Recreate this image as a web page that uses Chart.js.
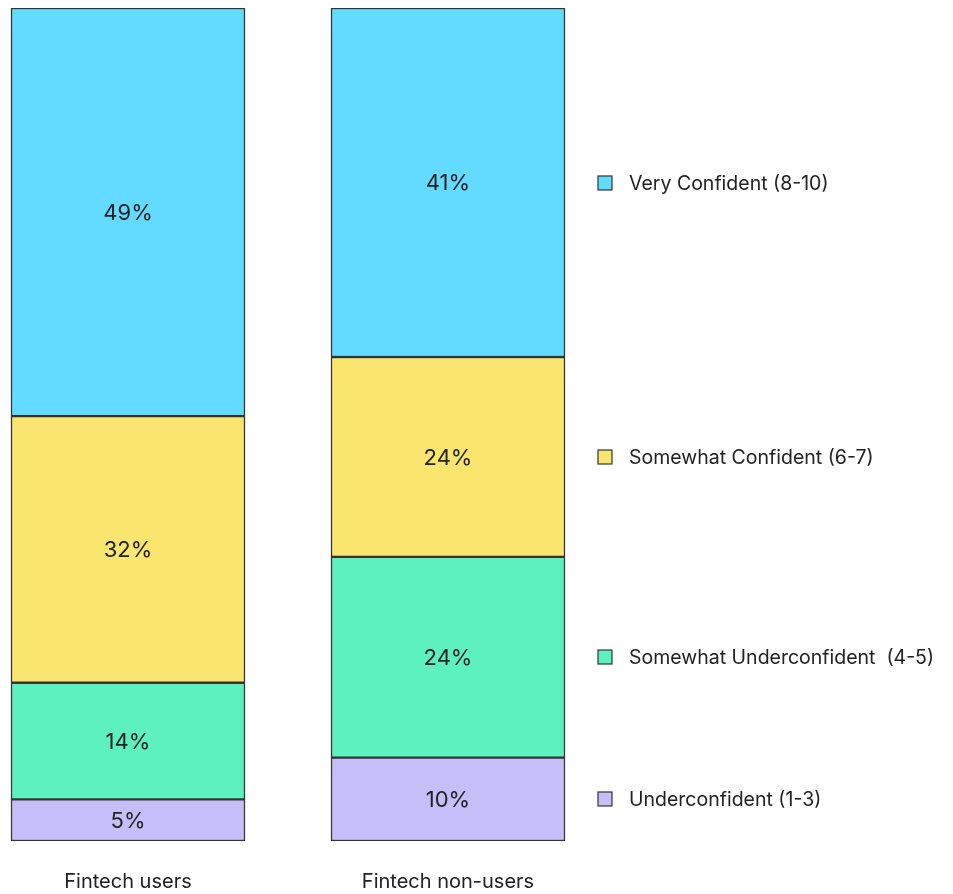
<!DOCTYPE html>
<html>
<head>
<meta charset="utf-8">
<script src="https://cdn.jsdelivr.net/npm/chart.js@4.4.0/dist/chart.umd.min.js"></script>
<style>
  html, body { margin: 0; padding: 0; background: #ffffff; }
  #wrap { width: 953px; height: 894px; position: relative; }
</style>
</head>
<body>
<div id="wrap"><canvas id="c"></canvas></div>
<script>
// ---- data ----
const categories = ["Fintech users", "Fintech non-users"];
const seriesNames = ["Underconfident (1-3)", "Somewhat Underconfident  (4-5)", "Somewhat Confident (6-7)", "Very Confident (8-10)"];
// bottom-to-top order, values per category [users, non-users]
const underconfident = [5, 10];
const somewhatUnderconfident = [14, 24.1];
const somewhatConfident = [32, 24];
const veryConfident = [49, 41.9];
// printed labels
const underconfidentLabels = ["5%", "10%"];
const somewhatUnderconfidentLabels = ["14%", "24%"];
const somewhatConfidentLabels = ["32%", "24%"];
const veryConfidentLabels = ["49%", "41%"];

const seriesValues = [underconfident, somewhatUnderconfident, somewhatConfident, veryConfident];
const seriesLabels = [underconfidentLabels, somewhatUnderconfidentLabels, somewhatConfidentLabels, veryConfidentLabels];
const colors = ["#C5BEF9", "#5CF1BF", "#FAE56E", "#63DAFF"];

const FONT = "Inter, 'Noto Sans', sans-serif";

const datasets = seriesValues.map((vals, i) => ({
  label: seriesNames[i],
  data: vals.map((v, j) => ({ x: j, y: v })),
  backgroundColor: colors[i],
  borderColor: "#333333",
  borderWidth: 1.5,
  borderSkipped: false,
  barThickness: 234,
  stack: "s"
}));

const segmentLabelPlugin = {
  id: "segmentLabels",
  afterDatasetsDraw(chart) {
    const ctx = chart.ctx;
    ctx.save();
    ctx.font = "22px " + FONT;
    ctx.fillStyle = "#222222";
    ctx.textAlign = "center";
    ctx.textBaseline = "middle";
    chart.data.datasets.forEach((ds, i) => {
      const meta = chart.getDatasetMeta(i);
      meta.data.forEach((el, j) => {
        const y = (el.y + el.base) / 2;
        ctx.fillText(seriesLabels[i][j], el.x, y + 1);
      });
    });
    ctx.restore();
  }
};

const sideLegendPlugin = {
  id: "sideLegend",
  afterDraw(chart) {
    const ctx = chart.ctx;
    ctx.save();
    ctx.font = "19.5px " + FONT;
    ctx.textAlign = "left";
    ctx.textBaseline = "middle";
    chart.data.datasets.forEach((ds, i) => {
      const el = chart.getDatasetMeta(i).data[1];
      const y = Math.round((el.y + el.base) / 2);
      const bx = el.x + el.width / 2 + 33;
      ctx.fillStyle = ds.backgroundColor;
      ctx.fillRect(bx, y - 7, 14, 14);
      ctx.strokeStyle = "#333333";
      ctx.lineWidth = 1.2;
      ctx.strokeRect(bx, y - 7, 14, 14);
      ctx.fillStyle = "#222222";
      ctx.fillText(ds.label, bx + 31, y + 1);
    });
    ctx.restore();
  }
};

new Chart(document.getElementById("c"), {
  type: "bar",
  data: { datasets },
  options: {
    responsive: true,
    maintainAspectRatio: false,
    animation: false,
    layout: { padding: { top: 8, left: 0, right: 0, bottom: 0 } },
    plugins: { legend: { display: false }, tooltip: { enabled: false } },
    scales: {
      x: {
        type: "linear",
        offset: false,
        bounds: "data",
        min: -0.4,
        max: -0.4 + 953 / 320,
        afterBuildTicks: (axis) => { axis.ticks = categories.map((c, i) => ({ value: i })); },
        afterFit: (axis) => { axis.height = 53; },
        ticks: {
          callback: (v) => categories[v] ?? "",
          font: { family: FONT, size: 20 },
          color: "#222222",
          padding: 29,
          maxRotation: 0,
          autoSkip: false
        },
        grid: { display: false, drawTicks: false, offset: false },
        border: { display: false }
      },
      y: {
        stacked: true,
        min: 0,
        max: 100,
        display: false
      }
    }
  },
  plugins: [segmentLabelPlugin, sideLegendPlugin]
});
</script>
</body>
</html>
